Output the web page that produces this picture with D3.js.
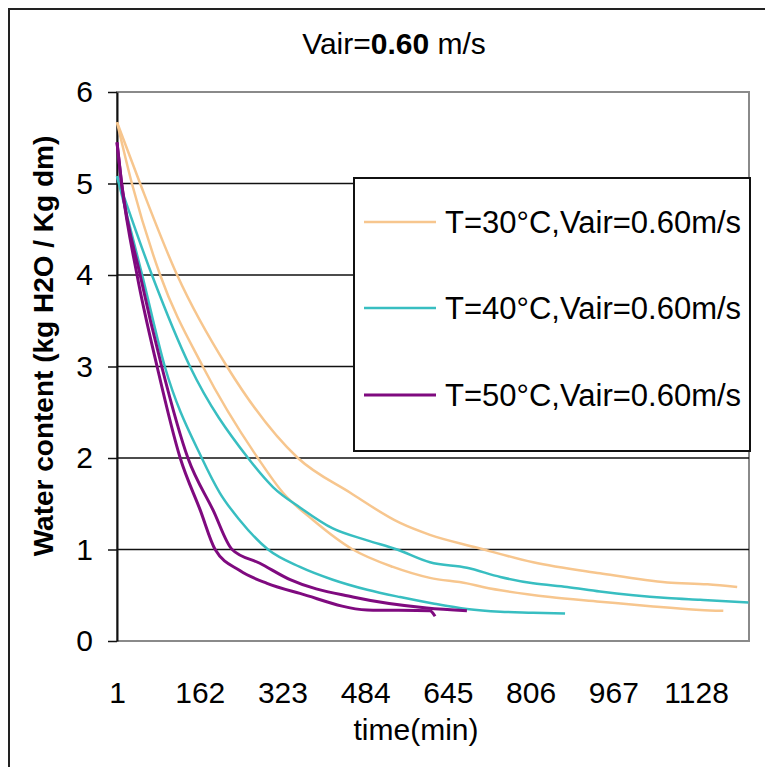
<!DOCTYPE html>
<html>
<head>
<meta charset="utf-8">
<script src="https://cdn.jsdelivr.net/npm/d3@7"></script>
<style>
  body { margin: 0; background: #fff; }
  svg { display: block; }
  text { font-family: "Liberation Sans", Arial, sans-serif; fill: #000; }
</style>
</head>
<body>
<svg id="chart"></svg>
<script>
// Series names (legend order)
const seriesNames = ["T=30°C,Vair=0.60m/s", "T=40°C,Vair=0.60m/s", "T=50°C,Vair=0.60m/s"];
const seriesColors = ["#f7c68e", "#38bec1", "#7f0a7f"];

// Two runs per temperature (time in min, water content)
const t30a = [1, 46, 118, 215, 353, 455, 552, 610, 702, 811, 941, 1072, 1150, 1208];
const w30a = [5.67, 5.0, 4.0, 3.0, 2.0, 1.62, 1.29, 1.16, 1.02, 0.86, 0.74, 0.64, 0.62, 0.59];
const t30b = [1, 30, 85, 168, 275, 324, 383, 460, 538, 610, 682, 713, 844, 941, 1039, 1136, 1181];
const w30b = [5.67, 5.0, 4.0, 3.0, 2.0, 1.62, 1.32, 1.0, 0.81, 0.69, 0.63, 0.59, 0.48, 0.43, 0.38, 0.34, 0.33];

const t40a = [1, 69, 143, 256, 305, 357, 421, 488, 546, 610, 682, 747, 811, 877, 941, 1006, 1072, 1136, 1230];
const w40a = [5.08, 4.0, 3.0, 2.0, 1.68, 1.46, 1.23, 1.10, 1.0, 0.86, 0.80, 0.70, 0.63, 0.59, 0.54, 0.50, 0.47, 0.45, 0.42];
const t40b = [1, 50, 94, 166, 201, 240, 295, 357, 421, 488, 552, 616, 682, 747, 811, 873];
const w40b = [5.08, 4.0, 3.0, 2.0, 1.62, 1.32, 1.0, 0.81, 0.67, 0.56, 0.48, 0.41, 0.35, 0.32, 0.31, 0.30];

const t50a = [1, 10, 46, 88, 139, 188, 225, 279, 338, 460, 604, 682];
const w50a = [5.45, 5.0, 4.0, 3.0, 2.0, 1.43, 1.0, 0.85, 0.67, 0.48, 0.36, 0.33];
const t50b = [1, 10, 40, 79, 124, 163, 192, 240, 293, 357, 488, 610, 620];
const w50b = [5.45, 5.0, 4.0, 3.0, 2.0, 1.43, 1.0, 0.77, 0.63, 0.52, 0.34, 0.33, 0.27];

// Axis ticks
const xTicks = [1, 162, 323, 484, 645, 806, 967, 1128];
const yTicks = [0, 1, 2, 3, 4, 5, 6];

const runs = [
  { s: 0, t: t30a, w: w30a }, { s: 0, t: t30b, w: w30b },
  { s: 1, t: t40a, w: w40a }, { s: 1, t: t40b, w: w40b },
  { s: 2, t: t50a, w: w50a }, { s: 2, t: t50b, w: w50b }
];

const svgWidth = 765, svgHeight = 767;
const plot = { left: 117, top: 92, right: 749, bottom: 641 };
const fontSize = 30;

const svg = d3.select("#chart")
  .attr("width", svgWidth)
  .attr("height", svgHeight);

// Outer chart frame (runs off the right and bottom edges)
svg.append("rect")
  .attr("x", 9).attr("y", 9)
  .attr("width", 820).attr("height", 820)
  .attr("fill", "none")
  .attr("stroke", "#222")
  .attr("stroke-width", 2);

const x = d3.scaleLinear().domain([1, 1231]).range([plot.left, plot.right]);
const y = d3.scaleLinear().domain([0, 6]).range([plot.bottom, plot.top]);

// Plot area border (gray)
svg.append("rect")
  .attr("x", plot.left).attr("y", plot.top)
  .attr("width", plot.right - plot.left)
  .attr("height", plot.bottom - plot.top)
  .attr("fill", "#fff")
  .attr("stroke", "#8a8a8a")
  .attr("stroke-width", 2);

// Horizontal gridlines
svg.append("g")
  .selectAll("line")
  .data(yTicks.filter(d => d > 0 && d < 6))
  .join("line")
  .attr("x1", plot.left).attr("x2", plot.right)
  .attr("y1", d => y(d)).attr("y2", d => y(d))
  .attr("stroke", "#111")
  .attr("stroke-width", 1.5);

// Y axis
const yAxis = svg.append("g")
  .attr("transform", `translate(${plot.left},0)`)
  .call(d3.axisLeft(y).tickValues(yTicks).tickSize(9).tickPadding(15)
    .tickSizeOuter(0).tickFormat(d3.format("d")));
yAxis.select(".domain").attr("stroke", "#111").attr("stroke-width", 2);
yAxis.selectAll(".tick line").attr("stroke", "#111").attr("stroke-width", 1.5);
yAxis.selectAll("text").attr("font-size", fontSize).attr("font-family", null);

// X axis (labels only)
const xAxis = svg.append("g")
  .attr("transform", `translate(0,${plot.bottom})`)
  .call(d3.axisBottom(x).tickValues(xTicks).tickSize(0).tickPadding(41).tickFormat(d3.format("d")));
xAxis.select(".domain").remove();
xAxis.selectAll("text").attr("font-size", fontSize).attr("font-family", null);

// Curves
const line = d3.line()
  .x(d => x(d[0]))
  .y(d => y(d[1]))
  .curve(d3.curveMonotoneX);

svg.append("g")
  .selectAll("path")
  .data(runs)
  .join("path")
  .attr("d", r => line(r.t.map((t, i) => [t, r.w[i]])))
  .attr("fill", "none")
  .attr("stroke", r => seriesColors[r.s])
  .attr("stroke-width", r => r.s === 2 ? 3 : 2.5)
  .attr("stroke-linejoin", "round");

// Legend
const legendY = [222, 308, 395];
svg.append("rect")
  .attr("x", 354).attr("y", 178)
  .attr("width", 396).attr("height", 273)
  .attr("fill", "#fff")
  .attr("stroke", "#111")
  .attr("stroke-width", 2);

const legend = svg.append("g")
  .selectAll("g")
  .data(seriesNames)
  .join("g")
  .attr("transform", (d, i) => `translate(0,${legendY[i]})`);
legend.append("line")
  .attr("x1", 364).attr("x2", 436)
  .attr("stroke", (d, i) => seriesColors[i])
  .attr("stroke-width", (d, i) => i === 2 ? 3 : 2.5);
legend.append("text")
  .attr("x", 445)
  .attr("dy", "0.35em")
  .attr("font-size", 31)
  .text(d => d);

// Title
const title = svg.append("text")
  .attr("x", 394).attr("y", 54)
  .attr("text-anchor", "middle")
  .attr("font-size", fontSize);
title.append("tspan").text("Vair=");
title.append("tspan").attr("font-weight", "bold").text("0.60");
title.append("tspan").text(" m/s");

// Axis titles
svg.append("text")
  .attr("x", 416).attr("y", 740)
  .attr("text-anchor", "middle")
  .attr("font-size", fontSize)
  .text("time(min)");

svg.append("text")
  .attr("transform", "translate(43,346) rotate(-90)")
  .attr("text-anchor", "middle")
  .attr("dy", "0.35em")
  .attr("font-size", 28)
  .attr("font-weight", "bold")
  .text("Water content (kg H2O / Kg dm)");
</script>
</body>
</html>
